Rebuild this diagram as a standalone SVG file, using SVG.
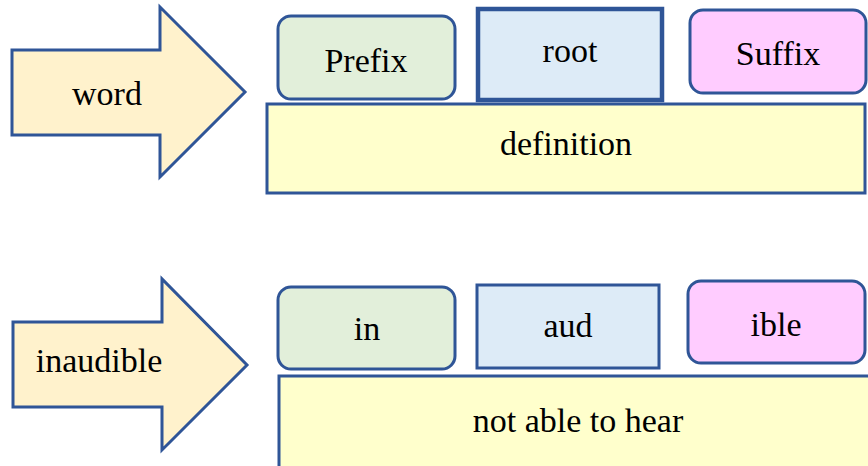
<svg xmlns="http://www.w3.org/2000/svg" width="868" height="466" viewBox="0 0 868 466">
<style>
.t{font-size:34px;fill:#000;text-anchor:middle}
.arr{fill:#FFF2CC;stroke:#2F5597;stroke-width:3;stroke-linejoin:miter}
.pre{fill:#E2EFDA;stroke:#2F5597;stroke-width:3}
.root{fill:#DDEBF7;stroke:#2F5597;stroke-width:3}
.suf{fill:#FFCCFF;stroke:#2F5597;stroke-width:3}
.def{fill:#FFFFCC;stroke:#2F5597;stroke-width:3}
</style>
<rect width="868" height="466" fill="#fff"/>
<g id="connectors"></g>
<g id="arrow-word">
<polygon class="arr" points="12,50 160,50 160,7 245,92 160,177 160,135 12,135"/>
<text class="t" font-family="Liberation Serif, serif" x="107" y="105">word</text>
</g>
<g id="prefix">
<rect class="pre" x="278" y="16" width="177" height="83" rx="13"/>
<text class="t" font-family="Liberation Serif, serif" x="366" y="72">Prefix</text>
</g>
<g id="root">
<rect class="root" x="478" y="9" width="184" height="91" style="stroke-width:4.5"/>
<text class="t" font-family="Liberation Serif, serif" x="570" y="62">root</text>
</g>
<g id="suffix">
<rect class="suf" x="690" y="10" width="176" height="83" rx="13"/>
<text class="t" font-family="Liberation Serif, serif" x="778" y="65">Suffix</text>
</g>
<g id="definition">
<rect class="def" x="267" y="104" width="598" height="89"/>
<text class="t" font-family="Liberation Serif, serif" x="566" y="155">definition</text>
</g>
<g id="arrow-inaudible">
<polygon class="arr" points="13,322 162,322 162,279 247,365 162,450 162,407 13,407"/>
<text class="t" font-family="Liberation Serif, serif" x="99" y="372">inaudible</text>
</g>
<g id="in">
<rect class="pre" x="278" y="287" width="177" height="82" rx="13"/>
<text class="t" font-family="Liberation Serif, serif" x="367" y="340">in</text>
</g>
<g id="aud">
<rect class="root" x="477" y="285" width="182" height="83"/>
<text class="t" font-family="Liberation Serif, serif" x="568" y="337">aud</text>
</g>
<g id="ible">
<rect class="suf" x="688" y="281" width="177" height="82" rx="13"/>
<text class="t" font-family="Liberation Serif, serif" x="776" y="336">ible</text>
</g>
<g id="not-able-to-hear">
<rect class="def" x="279" y="376" width="600" height="100"/>
<text class="t" font-family="Liberation Serif, serif" x="578" y="432">not able to hear</text>
</g>
</svg>
